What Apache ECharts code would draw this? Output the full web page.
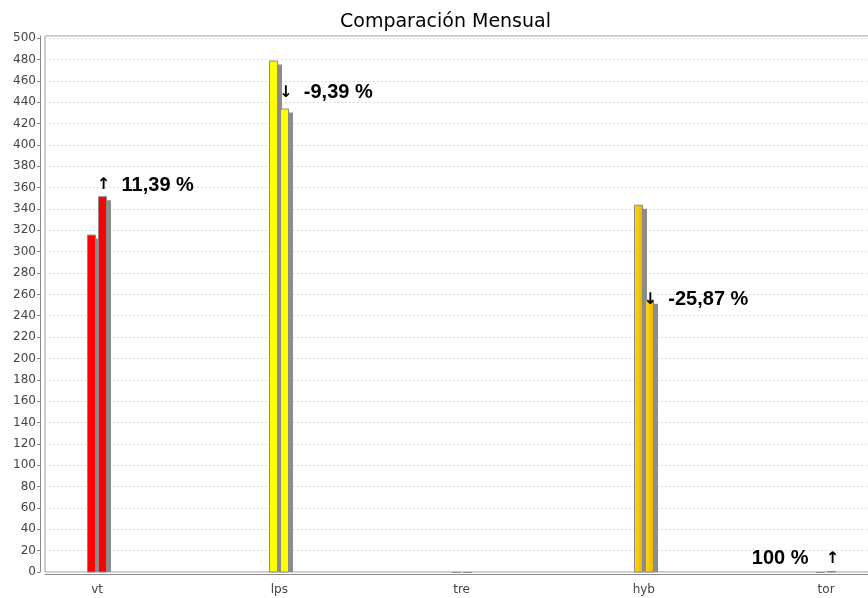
<!DOCTYPE html>
<html>
<head>
<meta charset="utf-8">
<script src="https://cdn.jsdelivr.net/npm/echarts@6/dist/echarts.min.js"></script>
<style>
  html, body { margin: 0; padding: 0; background: #fff; overflow: hidden; width: 868px; height: 598px; }
  /* canvas runs slightly past the right edge so the plot frame's right side is cut off */
  #chart { width: 880px; height: 598px; }
</style>
</head>
<body>
<div id="chart"></div>
<script>
// Monthly comparison: previous vs current month per line
const categories = ['vt', 'lps', 'tre', 'hyb', 'tor'];
const previousMonth = [316, 479, 0, 344, 0];
const currentMonth = [352, 434, 0, 255, 1];
const yTicks = { min: 0, max: 502, step: 20 };

// Styling
const barColors = ['#ff0000', '#ffff00', '#3399ff', ['#ffd91a', '#e8b400'], '#999999'];
const labelLift = [11, 16, 20, 0, 12];
const BAR_W = 9, BAR_PITCH = 11, SHADOW = 4;
const VISIBLE_W = 868;

const chart = echarts.init(document.getElementById('chart'));

function fillFor(i) {
  const c = barColors[i];
  if (Array.isArray(c)) {
    return new echarts.graphic.LinearGradient(0, 0, 1, 0, [
      { offset: 0, color: c[0] }, { offset: 1, color: c[1] }
    ]);
  }
  return c;
}

function barSeries(values, slot) {
  return {
    type: 'custom',
    name: slot === 0 ? 'anterior' : 'actual',
    data: values.map((v, i) => [i, v]),
    encode: { x: 0, y: 1 },
    clip: false,
    renderItem: function (params, api) {
      const i = api.value(0);
      const base = api.coord([i, 0]);
      const top = api.coord([i, api.value(1)]);
      const x = Math.round(base[0] - (BAR_W + BAR_PITCH) / 2 + slot * BAR_PITCH);
      const yb = base[1];
      const yt = top[1];
      const children = [];
      if (yt + SHADOW < yb) {
        children.push({
          type: 'rect',
          shape: { x: x + SHADOW, y: yt + SHADOW, width: BAR_W, height: yb - yt - SHADOW },
          style: { fill: '#8c8c8c' }
        });
      }
      children.push({
        type: 'rect',
        shape: { x: x + 0.5, y: yt + 0.5, width: BAR_W - 1, height: Math.max(yb - yt - 0.5, 0) },
        style: { fill: fillFor(i), stroke: '#8a8a8a', lineWidth: 1 }
      });
      return { type: 'group', children: children };
    }
  };
}

const labelSeries = {
  type: 'custom',
  name: 'variacion',
  data: categories.map((c, i) => [i, currentMonth[i], previousMonth[i]]),
  encode: { x: 0, y: 1 },
  clip: false,
  renderItem: function (params, api) {
    const i = api.value(0);
    const cur = api.value(1);
    const prev = api.value(2);
    if (cur === 0 && prev === 0) return null;
    const base = api.coord([i, 0]);
    const top = api.coord([i, cur]);
    const ax = base[0] - (BAR_W + BAR_PITCH) / 2 + BAR_PITCH + BAR_W / 2 + 1;
    const y = top[1] - labelLift[i];
    const pct = prev === 0 ? '100 %' : ((cur - prev) / prev * 100).toFixed(2).replace('.', ',') + ' %';
    const arrow = cur >= prev ? '\u2191' : '\u2193';
    const font = 'bold 20px "Liberation Sans", Arial, sans-serif';
    const arrowFont = 'bold 16px "DejaVu Sans", sans-serif';
    const roomRight = VISIBLE_W - ax > 110;
    return {
      type: 'group',
      children: [
        { type: 'text', x: ax, y: y,
          style: { text: arrow, font: arrowFont, fill: '#000', align: 'center', verticalAlign: 'middle' } },
        { type: 'text', x: roomRight ? ax + 18 : ax - 24, y: y,
          style: { text: pct, font: font, fill: '#000', align: roomRight ? 'left' : 'right', verticalAlign: 'middle' } }
      ]
    };
  }
};

chart.setOption({
  animation: false,
  backgroundColor: '#ffffff',
  title: {
    text: 'Comparación Mensual',
    left: 335,
    top: 8,
    textStyle: { fontFamily: 'DejaVu Sans', fontSize: 19, fontWeight: 'normal', color: '#000' }
  },
  grid: {
    left: 45, right: 10, top: 36, bottom: 26,
    show: true, borderColor: '#999', borderWidth: 1, backgroundColor: '#fff'
  },
  xAxis: {
    type: 'value',
    // step of 1/7 so the axis start (-2/7) sits on a tick
    min: -2 / 7,
    max: 4.241,
    interval: 1 / 7,
    offset: 2,
    axisLine: { show: true, onZero: false, lineStyle: { color: '#8a8a8a' } },
    axisTick: { show: false },
    splitLine: { show: false },
    axisLabel: {
      showMinLabel: false,
      showMaxLabel: false,
      margin: 10,
      color: '#444',
      fontFamily: 'DejaVu Sans',
      fontSize: 12,
      formatter: function (v) {
        const k = Math.round(v);
        return Math.abs(v - k) < 0.02 && categories[k] !== undefined ? categories[k] : '';
      }
    }
  },
  yAxis: {
    type: 'value',
    min: yTicks.min,
    max: yTicks.max,
    interval: yTicks.step,
    offset: 5,
    axisLine: { show: true, onZero: false, lineStyle: { color: '#8a8a8a' } },
    axisTick: { show: true, length: 3, lineStyle: { color: '#8a8a8a' } },
    splitLine: { show: true, lineStyle: { color: '#dcdcdc', type: [2, 2] } },
    axisLabel: { margin: 4, showMaxLabel: false, color: '#444', fontFamily: 'DejaVu Sans', fontSize: 12 }
  },
  series: [barSeries(previousMonth, 0), barSeries(currentMonth, 1), labelSeries]
});
</script>
</body>
</html>
